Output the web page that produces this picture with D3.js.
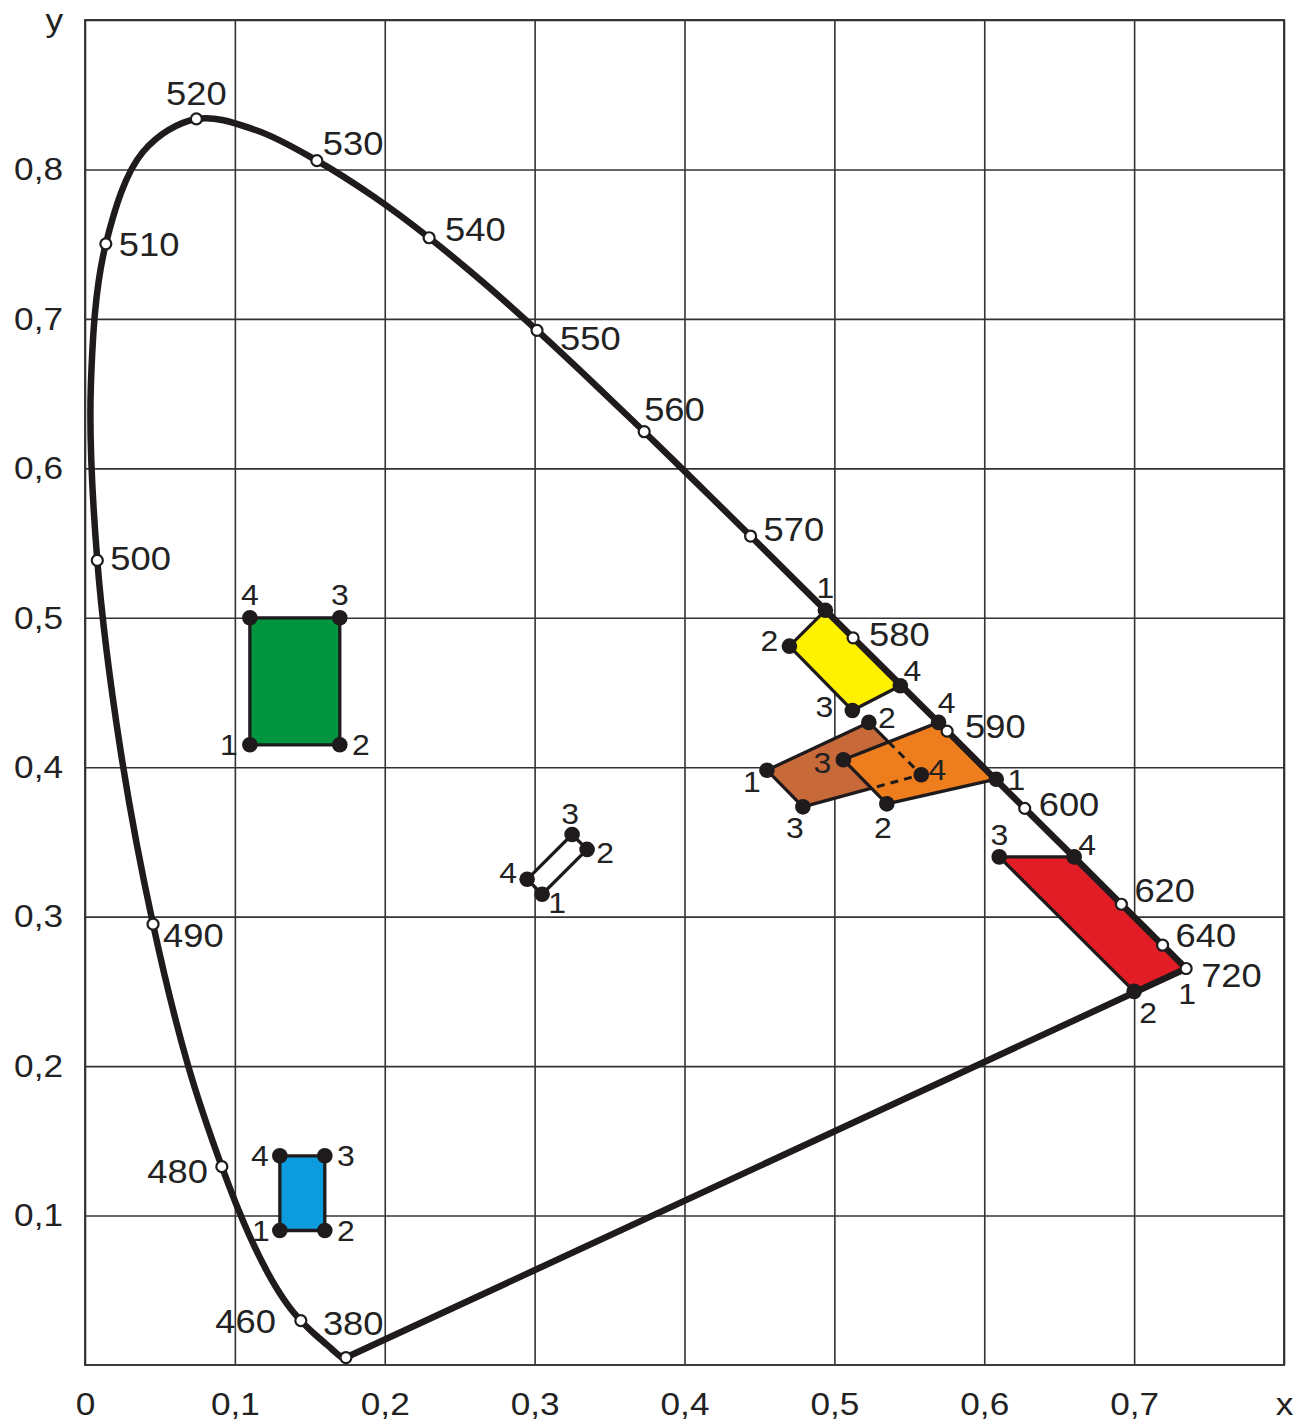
<!DOCTYPE html>
<html><head><meta charset="utf-8">
<script src="https://cdn.jsdelivr.net/npm/d3@7"></script>
<style>body{margin:0;background:#fff;} svg{display:block}</style>
</head><body><svg id="c" width="1298" height="1422"></svg>
<script>
// ---------------- DATA ----------------
const locusNm = [380,385,390,395,400,405,410,415,420,425,430,435,440,445,450,455,460,465,470,475,480,485,490,495,500,505,510,515,520,525,530,535,540,545,550,555,560,565,570,575,580,585,590,595,600,605,610,615,620,625,630,635,640,645,650,655,660,665,670,680,690,700,720];
const locusX = [0.1741,0.1740,0.1738,0.1736,0.1733,0.1730,0.1726,0.1721,0.1714,0.1703,0.1689,0.1669,0.1644,0.1611,0.1566,0.1510,0.1440,0.1355,0.1241,0.1096,0.0913,0.0687,0.0454,0.0235,0.0082,0.0039,0.0139,0.0389,0.0743,0.1142,0.1547,0.1929,0.2296,0.2658,0.3016,0.3373,0.3731,0.4087,0.4441,0.4788,0.5125,0.5448,0.5752,0.6029,0.6270,0.6482,0.6658,0.6801,0.6915,0.7006,0.7079,0.7140,0.7190,0.7230,0.7260,0.7283,0.7300,0.7311,0.7320,0.7334,0.7344,0.7347,0.7347];
const locusY = [0.0050,0.0050,0.0049,0.0049,0.0048,0.0048,0.0048,0.0048,0.0051,0.0058,0.0069,0.0086,0.0109,0.0138,0.0177,0.0227,0.0297,0.0399,0.0578,0.0868,0.1327,0.2007,0.2950,0.4127,0.5384,0.6548,0.7502,0.8120,0.8338,0.8262,0.8059,0.7816,0.7543,0.7243,0.6923,0.6589,0.6245,0.5896,0.5547,0.5202,0.4866,0.4544,0.4242,0.3965,0.3725,0.3514,0.3340,0.3197,0.3083,0.2993,0.2920,0.2859,0.2809,0.2770,0.2740,0.2717,0.2700,0.2689,0.2680,0.2666,0.2656,0.2653,0.2653];
const markedNm = [380,460,480,490,500,510,520,530,540,550,560,570,580,590,600,620,640,720];

const xTicks = [0,0.1,0.2,0.3,0.4,0.5,0.6,0.7,0.8];
const xTickLabels = ["0","0,1","0,2","0,3","0,4","0,5","0,6","0,7","x"];
const yTicks = [0.1,0.2,0.3,0.4,0.5,0.6,0.7,0.8,0.9];
const yTickLabels = ["0,1","0,2","0,3","0,4","0,5","0,6","0,7","0,8","y"];

// signal colour areas: vertices in drawing order, with their point numbers
const greenX = [0.110,0.170,0.170,0.110];
const greenY = [0.415,0.415,0.500,0.500];
const greenNo = ["1","2","3","4"];
const blueX = [0.130,0.160,0.160,0.130];
const blueY = [0.090,0.090,0.140,0.140];
const blueNo = ["1","2","3","4"];
const whiteX = [0.305,0.335,0.325,0.295];
const whiteY = [0.315,0.345,0.355,0.325];
const whiteNo = ["1","2","3","4"];
const yellowX = [0.494,0.470,0.512,0.544];
const yellowY = [0.505,0.481,0.438,0.4545];
const yellowNo = ["1","2","3","4"];
const brownX = [0.455,0.523,0.558,0.479];
const brownY = [0.398,0.430,0.395,0.3735];
const brownNo = ["1","2","4","3"];
const orangeX = [0.506,0.5695,0.608,0.535];
const orangeY = [0.405,0.430,0.392,0.3755];
const orangeNo = ["3","4","1","2"];
const redX = [0.610,0.660,0.7347,0.700];
const redY = [0.340,0.340,0.2653,0.250];
const redNo = ["3","4","1","2"];

// ---------------- LAYOUT / STYLE ----------------
const plot = {left:85, right:1284, top:20, bottom:1365};
const ink = "#1f1b1c", textInk = "#222";
const font = "'Liberation Sans', Arial, Helvetica, sans-serif";
const stretch = 1.1;
const polyStyle = {
  green:{fill:"#00963f", labelOff:[[-21,0],[21,0],[0,-23],[0,-23]]},
  blue:{fill:"#0c9bdc", labelOff:[[-19,0],[21,0],[21,0],[-20,0]]},
  white:{fill:"#ffffff", labelOff:[[15,8],[18,3],[-2,-21],[-19,-7]]},
  yellow:{fill:"#fff200", labelOff:[[0,-23],[-20,-6],[-28,-4],[12,-15]]},
  brown:{fill:"#c8693a", labelOff:[[-15,11],[18,-5],[16,-5],[-8,21]]},
  orange:{fill:"#ee7d1e", labelOff:[[-21,3],[8,-20],[20,0],[-4,24]]},
  red:{fill:"#e31d25", labelOff:[[0,-22],[13,-12],[1,25],[14,21]]}
};
const nmLabelOff = {380:[-23,-34,"start"],460:[-25,0,"end"],480:[-14,4,"end"],490:[10,11,"start"],
  500:[13,-2,"start"],510:[13,0,"start"],520:[0,-26,"middle"],530:[6,-18,"start"],540:[16,-9,"start"],
  550:[23,8,"start"],560:[0,-23,"start"],570:[13,-7,"start"],580:[16,-4,"start"],590:[18,-5,"start"],
  600:[14,-4,"start"],620:[13,-14,"start"],640:[13,-10,"start"],720:[15,7,"start"]};

// ---------------- DRAW ----------------
const svg = d3.select("#c");
const x = d3.scaleLinear().domain([0,0.8]).range([plot.left, plot.right]);
const y = d3.scaleLinear().domain([0,0.9]).range([plot.bottom, plot.top]);

// axes with grid
const xAxis = d3.axisBottom(x).tickValues(xTicks)
  .tickFormat((d,i)=>xTickLabels[i]).tickSize(-(plot.bottom-plot.top)).tickPadding(27);
const yAxis = d3.axisLeft(y).tickValues(yTicks)
  .tickFormat((d,i)=>yTickLabels[i]).tickSize(-(plot.right-plot.left)).tickPadding(22/stretch);
const gx = svg.append("g").attr("transform",`translate(0,${plot.bottom})`).call(xAxis);
const gy = svg.append("g").attr("transform",`translate(${plot.left},0)`).call(yAxis);
[gx,gy].forEach(g=>{
  g.select(".domain").remove();
  g.selectAll(".tick line").attr("stroke","#333").attr("stroke-width",1.6);
  g.selectAll(".tick text").attr("fill",textInk).attr("font-family",font).attr("font-size",32)
    .attr("transform",`scale(${stretch},1)`);
});
svg.append("rect").attr("x",plot.left).attr("y",plot.top)
  .attr("width",plot.right-plot.left).attr("height",plot.bottom-plot.top)
  .attr("fill","none").attr("stroke","#333").attr("stroke-width",1.9);

// polygons
const polys = [
  {k:"green",X:greenX,Y:greenY,N:greenNo},
  {k:"blue",X:blueX,Y:blueY,N:blueNo},
  {k:"white",X:whiteX,Y:whiteY,N:whiteNo},
  {k:"yellow",X:yellowX,Y:yellowY,N:yellowNo},
  {k:"brown",X:brownX,Y:brownY,N:brownNo},
  {k:"orange",X:orangeX,Y:orangeY,N:orangeNo},
  {k:"red",X:redX,Y:redY,N:redNo}
];
const ptsOf = p => p.X.map((v,i)=>[x(v), y(p.Y[i])]);
const gPoly = svg.append("g");
polys.forEach(p=>{
  gPoly.append("path").attr("d", d3.line()(ptsOf(p))+"Z")
    .attr("fill",polyStyle[p.k].fill).attr("stroke",ink).attr("stroke-width",3.3)
    .attr("stroke-linejoin","round");
});
// dashed brown edges hidden under orange
const orange = polys.find(p=>p.k==="orange"), brown = polys.find(p=>p.k==="brown");
svg.append("clipPath").attr("id","orClip").append("path").attr("d", d3.line()(ptsOf(orange))+"Z");
const bp = ptsOf(brown);
svg.append("path").attr("d", d3.line()([bp[1],bp[2],bp[3]]))
  .attr("clip-path","url(#orClip)").attr("fill","none").attr("stroke",ink)
  .attr("stroke-width",3).attr("stroke-dasharray","8,6");

// spectral locus
const locusPts = locusX.map((v,i)=>[x(v), y(locusY[i])]);
svg.append("path").attr("d", d3.line().curve(d3.curveCatmullRom.alpha(0.5))(locusPts))
  .attr("fill","none").attr("stroke",ink).attr("stroke-width",6.5).attr("stroke-linejoin","round");
svg.append("path").attr("d", d3.line()([locusPts[locusPts.length-1], locusPts[0]]))
  .attr("fill","none").attr("stroke",ink).attr("stroke-width",6.5).attr("stroke-linecap","round");

// marker positions
const marks = markedNm.map(nm=>{const i=locusNm.indexOf(nm); return {nm, px:x(locusX[i]), py:y(locusY[i])};});

// vertex dots + numbers
const gDots = svg.append("g");
polys.forEach(p=>{
  ptsOf(p).forEach((pt,i)=>{
    const onMark = marks.some(m=>Math.hypot(m.px-pt[0],m.py-pt[1])<3);
    if(!onMark) gDots.append("circle").attr("cx",pt[0]).attr("cy",pt[1]).attr("r",7.8).attr("fill",ink);
    const o = polyStyle[p.k].labelOff[i];
    gDots.append("text").text(p.N[i])
      .attr("transform",`translate(${pt[0]+o[0]},${pt[1]+o[1]}) scale(${stretch},1)`)
      .attr("text-anchor","middle").attr("dy","0.36em")
      .attr("font-family",font).attr("font-size",29).attr("fill",textInk);
  });
});

// wavelength markers and labels
const gM = svg.append("g");
marks.forEach(m=>{
  gM.append("circle").attr("cx",m.px).attr("cy",m.py).attr("r",5.5)
    .attr("fill","#fff").attr("stroke",ink).attr("stroke-width",2.2);
  const o = nmLabelOff[m.nm];
  gM.append("text").text(m.nm)
    .attr("transform",`translate(${m.px+o[0]},${m.py+o[1]}) scale(${stretch},1)`)
    .attr("text-anchor",o[2]).attr("dy","0.36em")
    .attr("font-family",font).attr("font-size",33).attr("fill",textInk);
});
</script></body></html>
